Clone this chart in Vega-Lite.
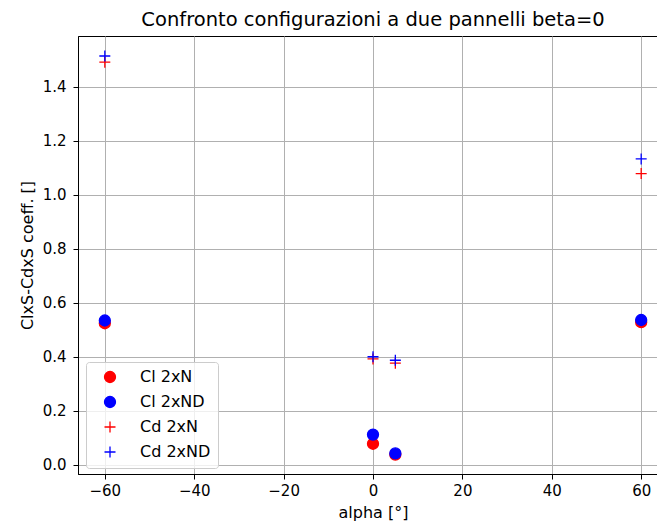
{
  "$schema": "https://vega.github.io/schema/vega-lite/v6.json",
  "autosize": {"type": "none"},
  "padding": {"left": 78, "top": 36, "right": 0, "bottom": 55},
  "width": 590,
  "height": 438,
  "title": {"text": "Confronto configurazioni a due pannelli beta=0", "font": "DejaVu Sans", "fontSize": 19.5, "fontWeight": "normal", "color": "#000000", "offset": 6},
  "config": {
    "font": "DejaVu Sans",
    "view": {"stroke": "#000000", "strokeWidth": 1},
    "axis": {
      "domainColor": "#000000", "tickColor": "#000000", "tickSize": 5, "tickWidth": 1,
      "gridColor": "#b0b0b0", "gridWidth": 1, "gridOpacity": 1,
      "labelFont": "DejaVu Sans", "labelFontSize": 15, "labelColor": "#000000",
      "titleFont": "DejaVu Sans", "titleFontSize": 16, "titleFontWeight": "normal", "titleColor": "#000000"
    }
  },
  "data": {"values": [
    {"alpha": -60, "value": 0.524, "series": "Cl 2xN"},
    {"alpha": 0, "value": 0.078, "series": "Cl 2xN"},
    {"alpha": 5, "value": 0.038, "series": "Cl 2xN"},
    {"alpha": 60, "value": 0.528, "series": "Cl 2xN"},
    {"alpha": -60, "value": 0.534, "series": "Cl 2xND"},
    {"alpha": 0, "value": 0.112, "series": "Cl 2xND"},
    {"alpha": 5, "value": 0.042, "series": "Cl 2xND"},
    {"alpha": 60, "value": 0.536, "series": "Cl 2xND"},
    {"alpha": -60, "value": 1.49, "series": "Cd 2xN"},
    {"alpha": 0, "value": 0.392, "series": "Cd 2xN"},
    {"alpha": 5, "value": 0.376, "series": "Cd 2xN"},
    {"alpha": 60, "value": 1.078, "series": "Cd 2xN"},
    {"alpha": -60, "value": 1.513, "series": "Cd 2xND"},
    {"alpha": 0, "value": 0.4, "series": "Cd 2xND"},
    {"alpha": 5, "value": 0.387, "series": "Cd 2xND"},
    {"alpha": 60, "value": 1.132, "series": "Cd 2xND"}
  ]},
  "mark": {"type": "point", "opacity": 1, "strokeWidth": 1.3},
  "encoding": {
    "x": {"field": "alpha", "type": "quantitative",
      "scale": {"domain": [-66, 66], "nice": false, "zero": false},
      "axis": {"title": "alpha [°]", "values": [-60, -40, -20, 0, 20, 40, 60], "format": "d", "labelPadding": 4, "titlePadding": 6}},
    "y": {"field": "value", "type": "quantitative",
      "scale": {"domain": [-0.034, 1.587], "nice": false, "zero": false},
      "axis": {"title": "ClxS-CdxS coeff. []", "values": [0, 0.2, 0.4, 0.6, 0.8, 1.0, 1.2, 1.4], "format": ".1f", "labelPadding": 7, "titlePadding": 7}},
    "shape": {"field": "series", "type": "nominal",
      "scale": {"domain": ["Cl 2xN", "Cl 2xND", "Cd 2xN", "Cd 2xND"], "range": ["circle", "circle", "M-1,0L1,0M0,-1L0,1", "M-1,0L1,0M0,-1L0,1"]},
      "legend": {"title": null, "orient": "none", "legendX": 8, "legendY": 326, "padding": 7,
        "fillColor": "rgba(255,255,255,0.8)", "strokeColor": "#cccccc", "cornerRadius": 3,
        "symbolSize": 110, "symbolOffset": 9, "labelOffset": 22, "rowPadding": 7,
        "labelFont": "DejaVu Sans", "labelFontSize": 16, "labelColor": "#000000", "symbolStrokeWidth": 1.3}},
    "fill": {"field": "series", "type": "nominal",
      "scale": {"domain": ["Cl 2xN", "Cl 2xND", "Cd 2xN", "Cd 2xND"], "range": ["#ff0000", "#0000ff", "transparent", "transparent"]}},
    "stroke": {"field": "series", "type": "nominal",
      "scale": {"domain": ["Cl 2xN", "Cl 2xND", "Cd 2xN", "Cd 2xND"], "range": ["#ff0000", "#0000ff", "#ff0000", "#0000ff"]}},
    "size": {"field": "series", "type": "nominal",
      "scale": {"domain": ["Cl 2xN", "Cl 2xND", "Cd 2xN", "Cd 2xND"], "range": [121, 121, 100, 100]}}
  }
}
